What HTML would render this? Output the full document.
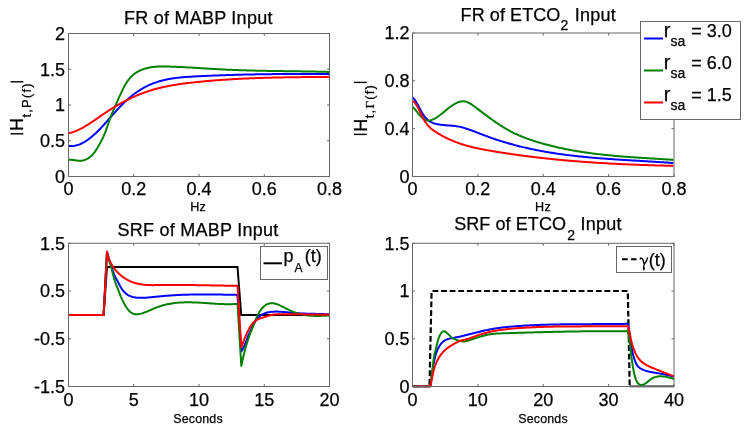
<!DOCTYPE html>
<html><head><meta charset="utf-8"><style>
html,body{margin:0;padding:0;background:#fff;width:749px;height:432px;overflow:hidden}
svg{display:block;will-change:transform;font-family:"Liberation Sans",sans-serif;fill:#000}
text{fill:#000;stroke:#000;stroke-width:0.25px}
</style></head><body>
<svg width="749" height="432" viewBox="0 0 749 432">
<rect width="749" height="432" fill="#fff"/>
<defs>
<clipPath id="c0"><rect x="67.5" y="32.5" width="263.0" height="145.0"/></clipPath>
<clipPath id="c1"><rect x="411.5" y="32.0" width="263.5" height="145.5"/></clipPath>
<clipPath id="c2"><rect x="67.5" y="242.3" width="263.0" height="145.2"/></clipPath>
<clipPath id="c3"><rect x="411.5" y="242.3" width="263.5" height="145.2"/></clipPath>
</defs>
<g clip-path="url(#c0)" fill="none" stroke-width="2" stroke-linejoin="round" stroke-linecap="butt">
<path d="M68.50,145.80L69.50,145.93L70.50,145.99L71.50,146.01L72.50,145.98L73.50,145.89L74.50,145.75L75.50,145.57L76.50,145.33L77.50,145.05L78.50,144.73L79.50,144.36L80.50,143.95L81.50,143.49L82.50,143.00L83.50,142.46L84.50,141.89L85.50,141.28L86.50,140.64L87.50,139.95L88.50,139.24L89.50,138.49L90.50,137.71L91.50,136.90L92.50,136.07L93.50,135.20L94.50,134.31L95.50,133.39L96.50,132.44L97.50,131.48L98.50,130.49L99.50,129.48L100.50,128.45L101.50,127.40L102.50,126.33L103.50,125.25L104.50,124.15L105.50,123.04L106.50,121.92L107.50,120.78L108.50,119.65L109.50,118.50L110.50,117.35L111.50,116.21L112.50,115.06L113.50,113.92L114.50,112.79L115.50,111.66L116.50,110.55L117.50,109.45L118.50,108.36L119.50,107.30L120.50,106.25L121.50,105.22L122.50,104.21L123.50,103.23L124.50,102.26L125.50,101.32L126.50,100.40L127.50,99.50L128.50,98.62L129.50,97.76L130.50,96.92L131.50,96.11L132.50,95.31L133.50,94.54L134.50,93.79L135.50,93.05L136.50,92.34L137.50,91.66L138.50,90.99L139.50,90.34L140.50,89.72L141.50,89.11L142.50,88.53L143.50,87.96L144.50,87.41L145.50,86.89L146.50,86.38L147.50,85.89L148.50,85.41L149.50,84.96L150.50,84.52L151.50,84.10L152.50,83.69L153.50,83.30L154.50,82.93L155.50,82.57L156.50,82.22L157.50,81.89L158.50,81.58L159.50,81.27L160.50,80.99L161.50,80.71L162.50,80.45L163.50,80.20L164.50,79.96L165.50,79.73L166.50,79.51L167.50,79.31L168.50,79.11L169.50,78.93L170.50,78.75L171.50,78.59L172.50,78.43L173.50,78.28L174.50,78.14L175.50,78.01L176.50,77.88L177.50,77.76L178.50,77.65L179.50,77.55L180.50,77.45L181.50,77.35L182.50,77.27L183.50,77.18L184.50,77.10L185.50,77.03L186.50,76.96L187.50,76.89L188.50,76.82L189.50,76.76L190.50,76.70L191.50,76.64L192.50,76.59L193.50,76.53L194.50,76.48L195.50,76.42L196.50,76.37L197.50,76.32L198.50,76.27L199.50,76.22L200.50,76.17L201.50,76.12L202.50,76.07L203.50,76.02L204.50,75.97L205.50,75.93L206.50,75.88L207.50,75.84L208.50,75.79L209.50,75.75L210.50,75.70L211.50,75.66L212.50,75.62L213.50,75.58L214.50,75.54L215.50,75.50L216.50,75.46L217.50,75.42L218.50,75.38L219.50,75.34L220.50,75.30L221.50,75.27L222.50,75.23L223.50,75.20L224.50,75.16L225.50,75.13L226.50,75.10L227.50,75.06L228.50,75.03L229.50,75.00L230.50,74.97L231.50,74.94L232.50,74.91L233.50,74.88L234.50,74.85L235.50,74.82L236.50,74.79L237.50,74.76L238.50,74.74L239.50,74.71L240.50,74.69L241.50,74.66L242.50,74.64L243.50,74.61L244.50,74.59L245.50,74.57L246.50,74.54L247.50,74.52L248.50,74.50L249.50,74.48L250.50,74.46L251.50,74.44L252.50,74.42L253.50,74.40L254.50,74.38L255.50,74.36L256.50,74.34L257.50,74.33L258.50,74.31L259.50,74.29L260.50,74.28L261.50,74.26L262.50,74.25L263.50,74.23L264.50,74.22L265.50,74.20L266.50,74.19L267.50,74.18L268.50,74.16L269.50,74.15L270.50,74.14L271.50,74.13L272.50,74.12L273.50,74.10L274.50,74.09L275.50,74.08L276.50,74.07L277.50,74.07L278.50,74.06L279.50,74.05L280.50,74.04L281.50,74.03L282.50,74.02L283.50,74.02L284.50,74.01L285.50,74.00L286.50,74.00L287.50,73.99L288.50,73.99L289.50,73.98L290.50,73.98L291.50,73.97L292.50,73.97L293.50,73.96L294.50,73.96L295.50,73.95L296.50,73.95L297.50,73.95L298.50,73.95L299.50,73.94L300.50,73.94L301.50,73.94L302.50,73.94L303.50,73.94L304.50,73.94L305.50,73.93L306.50,73.93L307.50,73.93L308.50,73.93L309.50,73.93L310.50,73.93L311.50,73.93L312.50,73.93L313.50,73.94L314.50,73.94L315.50,73.94L316.50,73.94L317.50,73.94L318.50,73.94L319.50,73.95L320.50,73.95L321.50,73.95L322.50,73.95L323.50,73.96L324.50,73.96L325.50,73.96L326.50,73.96L327.50,73.97L328.50,73.97L329.50,73.97" stroke="#0000ff"/>
<path d="M68.50,159.71L69.50,159.67L70.50,159.69L71.50,159.77L72.50,159.89L73.50,160.03L74.50,160.19L75.50,160.36L76.50,160.51L77.50,160.64L78.50,160.74L79.50,160.79L80.50,160.78L81.50,160.71L82.50,160.55L83.50,160.32L84.50,160.02L85.50,159.64L86.50,159.19L87.50,158.67L88.50,158.07L89.50,157.38L90.50,156.59L91.50,155.70L92.50,154.70L93.50,153.57L94.50,152.32L95.50,150.93L96.50,149.41L97.50,147.78L98.50,146.06L99.50,144.26L100.50,142.40L101.50,140.50L102.50,138.54L103.50,136.45L104.50,134.19L105.50,131.70L106.50,128.92L107.50,125.97L108.50,123.00L109.50,120.12L110.50,117.38L111.50,114.83L112.50,112.43L113.50,110.10L114.50,107.77L115.50,105.43L116.50,103.12L117.50,100.85L118.50,98.62L119.50,96.45L120.50,94.30L121.50,92.12L122.50,89.96L123.50,87.89L124.50,85.98L125.50,84.25L126.50,82.66L127.50,81.19L128.50,79.84L129.50,78.59L130.50,77.45L131.50,76.40L132.50,75.45L133.50,74.58L134.50,73.78L135.50,73.06L136.50,72.40L137.50,71.80L138.50,71.26L139.50,70.76L140.50,70.31L141.50,69.89L142.50,69.50L143.50,69.14L144.50,68.81L145.50,68.50L146.50,68.22L147.50,67.97L148.50,67.74L149.50,67.53L150.50,67.34L151.50,67.18L152.50,67.03L153.50,66.90L154.50,66.80L155.50,66.70L156.50,66.63L157.50,66.56L158.50,66.51L159.50,66.48L160.50,66.45L161.50,66.44L162.50,66.43L163.50,66.44L164.50,66.45L165.50,66.46L166.50,66.48L167.50,66.51L168.50,66.54L169.50,66.57L170.50,66.60L171.50,66.64L172.50,66.67L173.50,66.71L174.50,66.75L175.50,66.79L176.50,66.83L177.50,66.88L178.50,66.92L179.50,66.97L180.50,67.02L181.50,67.07L182.50,67.12L183.50,67.17L184.50,67.22L185.50,67.27L186.50,67.33L187.50,67.38L188.50,67.44L189.50,67.50L190.50,67.55L191.50,67.61L192.50,67.67L193.50,67.73L194.50,67.79L195.50,67.85L196.50,67.91L197.50,67.97L198.50,68.03L199.50,68.10L200.50,68.16L201.50,68.22L202.50,68.28L203.50,68.34L204.50,68.40L205.50,68.47L206.50,68.53L207.50,68.59L208.50,68.65L209.50,68.71L210.50,68.77L211.50,68.83L212.50,68.89L213.50,68.95L214.50,69.01L215.50,69.07L216.50,69.12L217.50,69.18L218.50,69.23L219.50,69.29L220.50,69.34L221.50,69.40L222.50,69.45L223.50,69.50L224.50,69.55L225.50,69.60L226.50,69.64L227.50,69.69L228.50,69.73L229.50,69.78L230.50,69.82L231.50,69.86L232.50,69.90L233.50,69.95L234.50,69.98L235.50,70.02L236.50,70.06L237.50,70.10L238.50,70.13L239.50,70.17L240.50,70.20L241.50,70.24L242.50,70.27L243.50,70.30L244.50,70.33L245.50,70.36L246.50,70.39L247.50,70.42L248.50,70.45L249.50,70.48L250.50,70.50L251.50,70.53L252.50,70.56L253.50,70.58L254.50,70.60L255.50,70.63L256.50,70.65L257.50,70.67L258.50,70.70L259.50,70.72L260.50,70.74L261.50,70.76L262.50,70.78L263.50,70.80L264.50,70.82L265.50,70.84L266.50,70.86L267.50,70.88L268.50,70.89L269.50,70.91L270.50,70.93L271.50,70.94L272.50,70.96L273.50,70.98L274.50,70.99L275.50,71.01L276.50,71.02L277.50,71.04L278.50,71.06L279.50,71.07L280.50,71.08L281.50,71.10L282.50,71.11L283.50,71.13L284.50,71.14L285.50,71.16L286.50,71.17L287.50,71.18L288.50,71.20L289.50,71.21L290.50,71.23L291.50,71.24L292.50,71.25L293.50,71.27L294.50,71.28L295.50,71.30L296.50,71.31L297.50,71.32L298.50,71.34L299.50,71.35L300.50,71.37L301.50,71.38L302.50,71.40L303.50,71.41L304.50,71.43L305.50,71.45L306.50,71.46L307.50,71.48L308.50,71.49L309.50,71.51L310.50,71.53L311.50,71.55L312.50,71.56L313.50,71.58L314.50,71.60L315.50,71.62L316.50,71.64L317.50,71.66L318.50,71.68L319.50,71.70L320.50,71.72L321.50,71.74L322.50,71.77L323.50,71.79L324.50,71.81L325.50,71.84L326.50,71.86L327.50,71.89L328.50,71.91L329.50,71.94" stroke="#008000"/>
<path d="M68.50,133.23L69.50,133.02L70.50,132.79L71.50,132.52L72.50,132.22L73.50,131.89L74.50,131.53L75.50,131.15L76.50,130.74L77.50,130.31L78.50,129.85L79.50,129.38L80.50,128.88L81.50,128.36L82.50,127.82L83.50,127.26L84.50,126.69L85.50,126.10L86.50,125.49L87.50,124.88L88.50,124.25L89.50,123.60L90.50,122.95L91.50,122.29L92.50,121.62L93.50,120.95L94.50,120.27L95.50,119.58L96.50,118.89L97.50,118.20L98.50,117.51L99.50,116.82L100.50,116.12L101.50,115.43L102.50,114.75L103.50,114.06L104.50,113.39L105.50,112.72L106.50,112.05L107.50,111.39L108.50,110.74L109.50,110.10L110.50,109.47L111.50,108.84L112.50,108.22L113.50,107.60L114.50,107.00L115.50,106.40L116.50,105.81L117.50,105.22L118.50,104.65L119.50,104.08L120.50,103.52L121.50,102.96L122.50,102.42L123.50,101.88L124.50,101.35L125.50,100.83L126.50,100.31L127.50,99.81L128.50,99.31L129.50,98.82L130.50,98.34L131.50,97.86L132.50,97.40L133.50,96.94L134.50,96.49L135.50,96.05L136.50,95.62L137.50,95.20L138.50,94.78L139.50,94.38L140.50,93.98L141.50,93.59L142.50,93.21L143.50,92.84L144.50,92.47L145.50,92.12L146.50,91.78L147.50,91.44L148.50,91.11L149.50,90.79L150.50,90.47L151.50,90.17L152.50,89.87L153.50,89.58L154.50,89.30L155.50,89.02L156.50,88.75L157.50,88.49L158.50,88.23L159.50,87.98L160.50,87.74L161.50,87.51L162.50,87.28L163.50,87.05L164.50,86.83L165.50,86.62L166.50,86.41L167.50,86.21L168.50,86.02L169.50,85.83L170.50,85.64L171.50,85.46L172.50,85.28L173.50,85.11L174.50,84.94L175.50,84.78L176.50,84.62L177.50,84.47L178.50,84.31L179.50,84.17L180.50,84.02L181.50,83.88L182.50,83.75L183.50,83.61L184.50,83.48L185.50,83.35L186.50,83.23L187.50,83.10L188.50,82.98L189.50,82.87L190.50,82.75L191.50,82.64L192.50,82.52L193.50,82.41L194.50,82.31L195.50,82.20L196.50,82.09L197.50,81.99L198.50,81.89L199.50,81.78L200.50,81.68L201.50,81.59L202.50,81.49L203.50,81.39L204.50,81.30L205.50,81.21L206.50,81.12L207.50,81.03L208.50,80.94L209.50,80.85L210.50,80.77L211.50,80.68L212.50,80.60L213.50,80.52L214.50,80.44L215.50,80.36L216.50,80.28L217.50,80.20L218.50,80.13L219.50,80.05L220.50,79.98L221.50,79.91L222.50,79.84L223.50,79.77L224.50,79.70L225.50,79.64L226.50,79.57L227.50,79.51L228.50,79.44L229.50,79.38L230.50,79.32L231.50,79.26L232.50,79.20L233.50,79.14L234.50,79.09L235.50,79.03L236.50,78.98L237.50,78.92L238.50,78.87L239.50,78.82L240.50,78.77L241.50,78.72L242.50,78.67L243.50,78.62L244.50,78.58L245.50,78.53L246.50,78.49L247.50,78.44L248.50,78.40L249.50,78.36L250.50,78.32L251.50,78.28L252.50,78.24L253.50,78.20L254.50,78.16L255.50,78.12L256.50,78.09L257.50,78.05L258.50,78.02L259.50,77.98L260.50,77.95L261.50,77.92L262.50,77.89L263.50,77.86L264.50,77.83L265.50,77.80L266.50,77.77L267.50,77.74L268.50,77.71L269.50,77.69L270.50,77.66L271.50,77.64L272.50,77.61L273.50,77.59L274.50,77.57L275.50,77.54L276.50,77.52L277.50,77.50L278.50,77.48L279.50,77.46L280.50,77.44L281.50,77.42L282.50,77.40L283.50,77.38L284.50,77.36L285.50,77.35L286.50,77.33L287.50,77.31L288.50,77.30L289.50,77.28L290.50,77.26L291.50,77.25L292.50,77.23L293.50,77.22L294.50,77.21L295.50,77.19L296.50,77.18L297.50,77.17L298.50,77.16L299.50,77.14L300.50,77.13L301.50,77.12L302.50,77.11L303.50,77.10L304.50,77.09L305.50,77.08L306.50,77.07L307.50,77.06L308.50,77.05L309.50,77.04L310.50,77.03L311.50,77.02L312.50,77.01L313.50,77.00L314.50,76.99L315.50,76.98L316.50,76.97L317.50,76.96L318.50,76.96L319.50,76.95L320.50,76.94L321.50,76.93L322.50,76.92L323.50,76.91L324.50,76.91L325.50,76.90L326.50,76.89L327.50,76.88L328.50,76.87L329.50,76.86" stroke="#ff0000"/>
</g>
<rect x="68.5" y="33.5" width="261.0" height="143.0" fill="none" stroke="#686868" stroke-width="1"/>
<line x1="68.5" y1="176.5" x2="68.5" y2="174.0" stroke="#686868" stroke-width="1"/>
<line x1="68.5" y1="33.5" x2="68.5" y2="36.0" stroke="#686868" stroke-width="1"/>
<line x1="133.75" y1="176.5" x2="133.75" y2="174.0" stroke="#686868" stroke-width="1"/>
<line x1="133.75" y1="33.5" x2="133.75" y2="36.0" stroke="#686868" stroke-width="1"/>
<line x1="199.0" y1="176.5" x2="199.0" y2="174.0" stroke="#686868" stroke-width="1"/>
<line x1="199.0" y1="33.5" x2="199.0" y2="36.0" stroke="#686868" stroke-width="1"/>
<line x1="264.25" y1="176.5" x2="264.25" y2="174.0" stroke="#686868" stroke-width="1"/>
<line x1="264.25" y1="33.5" x2="264.25" y2="36.0" stroke="#686868" stroke-width="1"/>
<line x1="329.5" y1="176.5" x2="329.5" y2="174.0" stroke="#686868" stroke-width="1"/>
<line x1="329.5" y1="33.5" x2="329.5" y2="36.0" stroke="#686868" stroke-width="1"/>
<line x1="68.5" y1="176.5" x2="71.0" y2="176.5" stroke="#686868" stroke-width="1"/>
<line x1="329.5" y1="176.5" x2="327.0" y2="176.5" stroke="#686868" stroke-width="1"/>
<line x1="68.5" y1="140.75" x2="71.0" y2="140.75" stroke="#686868" stroke-width="1"/>
<line x1="329.5" y1="140.75" x2="327.0" y2="140.75" stroke="#686868" stroke-width="1"/>
<line x1="68.5" y1="105.0" x2="71.0" y2="105.0" stroke="#686868" stroke-width="1"/>
<line x1="329.5" y1="105.0" x2="327.0" y2="105.0" stroke="#686868" stroke-width="1"/>
<line x1="68.5" y1="69.25" x2="71.0" y2="69.25" stroke="#686868" stroke-width="1"/>
<line x1="329.5" y1="69.25" x2="327.0" y2="69.25" stroke="#686868" stroke-width="1"/>
<line x1="68.5" y1="33.5" x2="71.0" y2="33.5" stroke="#686868" stroke-width="1"/>
<line x1="329.5" y1="33.5" x2="327.0" y2="33.5" stroke="#686868" stroke-width="1"/>
<g clip-path="url(#c1)" fill="none" stroke-width="2" stroke-linejoin="round" stroke-linecap="butt">
<path d="M412.60,97.48L413.60,98.44L414.61,99.68L415.61,101.13L416.61,102.77L417.62,104.54L418.62,106.39L419.62,108.27L420.63,110.14L421.63,111.95L422.63,113.65L423.64,115.19L424.64,116.56L425.65,117.78L426.65,118.85L427.65,119.79L428.66,120.60L429.66,121.31L430.66,121.91L431.67,122.42L432.67,122.86L433.67,123.22L434.68,123.54L435.68,123.81L436.68,124.04L437.69,124.25L438.69,124.44L439.69,124.60L440.70,124.74L441.70,124.87L442.70,124.98L443.71,125.08L444.71,125.16L445.71,125.24L446.72,125.31L447.72,125.38L448.72,125.45L449.73,125.52L450.73,125.60L451.74,125.68L452.74,125.77L453.74,125.87L454.75,125.99L455.75,126.12L456.75,126.27L457.76,126.44L458.76,126.63L459.76,126.84L460.77,127.07L461.77,127.32L462.77,127.58L463.78,127.86L464.78,128.15L465.78,128.45L466.79,128.77L467.79,129.10L468.79,129.44L469.80,129.79L470.80,130.15L471.80,130.52L472.81,130.90L473.81,131.27L474.81,131.66L475.82,132.05L476.82,132.44L477.83,132.83L478.83,133.23L479.83,133.62L480.84,134.01L481.84,134.40L482.84,134.79L483.85,135.17L484.85,135.55L485.85,135.93L486.86,136.30L487.86,136.67L488.86,137.03L489.87,137.39L490.87,137.75L491.87,138.10L492.88,138.44L493.88,138.79L494.88,139.13L495.89,139.46L496.89,139.79L497.89,140.12L498.90,140.44L499.90,140.76L500.90,141.08L501.91,141.39L502.91,141.70L503.92,142.01L504.92,142.31L505.92,142.60L506.93,142.90L507.93,143.19L508.93,143.48L509.94,143.76L510.94,144.04L511.94,144.32L512.95,144.59L513.95,144.86L514.95,145.13L515.96,145.39L516.96,145.65L517.96,145.91L518.97,146.16L519.97,146.41L520.97,146.65L521.98,146.90L522.98,147.14L523.98,147.38L524.99,147.61L525.99,147.84L526.99,148.07L528.00,148.29L529.00,148.52L530.00,148.73L531.01,148.95L532.01,149.16L533.02,149.37L534.02,149.58L535.02,149.79L536.03,149.99L537.03,150.19L538.03,150.38L539.04,150.58L540.04,150.77L541.04,150.95L542.05,151.14L543.05,151.32L544.05,151.50L545.06,151.68L546.06,151.86L547.06,152.03L548.07,152.20L549.07,152.37L550.07,152.53L551.08,152.69L552.08,152.85L553.08,153.01L554.09,153.17L555.09,153.32L556.10,153.47L557.10,153.62L558.10,153.77L559.11,153.91L560.11,154.06L561.11,154.20L562.12,154.34L563.12,154.47L564.12,154.61L565.13,154.74L566.13,154.87L567.13,155.00L568.14,155.12L569.14,155.25L570.14,155.37L571.15,155.49L572.15,155.61L573.15,155.73L574.16,155.84L575.16,155.96L576.16,156.07L577.17,156.18L578.17,156.29L579.17,156.39L580.18,156.50L581.18,156.60L582.18,156.70L583.19,156.80L584.19,156.90L585.20,157.00L586.20,157.10L587.20,157.19L588.21,157.29L589.21,157.38L590.21,157.47L591.22,157.56L592.22,157.65L593.22,157.73L594.23,157.82L595.23,157.90L596.23,157.99L597.24,158.07L598.24,158.15L599.24,158.23L600.25,158.31L601.25,158.39L602.25,158.46L603.26,158.54L604.26,158.61L605.26,158.69L606.27,158.76L607.27,158.83L608.27,158.90L609.28,158.97L610.28,159.04L611.29,159.11L612.29,159.18L613.29,159.25L614.30,159.32L615.30,159.38L616.30,159.45L617.31,159.51L618.31,159.58L619.31,159.64L620.32,159.70L621.32,159.77L622.32,159.83L623.33,159.89L624.33,159.95L625.33,160.01L626.34,160.08L627.34,160.14L628.34,160.20L629.35,160.26L630.35,160.32L631.35,160.38L632.36,160.43L633.36,160.49L634.37,160.55L635.37,160.61L636.37,160.67L637.38,160.73L638.38,160.79L639.38,160.85L640.39,160.91L641.39,160.97L642.39,161.02L643.40,161.08L644.40,161.14L645.40,161.20L646.41,161.26L647.41,161.32L648.41,161.38L649.42,161.44L650.42,161.50L651.42,161.56L652.43,161.63L653.43,161.69L654.43,161.75L655.44,161.81L656.44,161.88L657.44,161.94L658.45,162.00L659.45,162.07L660.46,162.13L661.46,162.20L662.46,162.27L663.47,162.33L664.47,162.40L665.47,162.47L666.48,162.54L667.48,162.61L668.48,162.68L669.49,162.75L670.49,162.82L671.49,162.90L672.50,162.97L673.50,163.05" stroke="#0000ff"/>
<path d="M412.60,106.84L413.60,107.82L414.61,108.92L415.61,110.10L416.61,111.34L417.62,112.60L418.62,113.85L419.62,115.07L420.63,116.21L421.63,117.26L422.63,118.18L423.64,118.95L424.64,119.55L425.65,119.99L426.65,120.28L427.65,120.45L428.66,120.48L429.66,120.40L430.66,120.21L431.67,119.93L432.67,119.55L433.67,119.10L434.68,118.58L435.68,118.01L436.68,117.38L437.69,116.71L438.69,116.01L439.69,115.27L440.70,114.50L441.70,113.72L442.70,112.92L443.71,112.10L444.71,111.28L445.71,110.46L446.72,109.65L447.72,108.84L448.72,108.05L449.73,107.28L450.73,106.53L451.74,105.81L452.74,105.13L453.74,104.49L454.75,103.89L455.75,103.35L456.75,102.86L457.76,102.43L458.76,102.06L459.76,101.77L460.77,101.54L461.77,101.39L462.77,101.32L463.78,101.34L464.78,101.44L465.78,101.62L466.79,101.91L467.79,102.28L468.79,102.76L469.80,103.31L470.80,103.92L471.80,104.60L472.81,105.31L473.81,106.05L474.81,106.81L475.82,107.57L476.82,108.33L477.83,109.10L478.83,109.86L479.83,110.62L480.84,111.38L481.84,112.14L482.84,112.89L483.85,113.65L484.85,114.40L485.85,115.15L486.86,115.89L487.86,116.63L488.86,117.37L489.87,118.10L490.87,118.82L491.87,119.54L492.88,120.25L493.88,120.96L494.88,121.66L495.89,122.35L496.89,123.03L497.89,123.71L498.90,124.37L499.90,125.03L500.90,125.68L501.91,126.31L502.91,126.94L503.92,127.56L504.92,128.16L505.92,128.75L506.93,129.33L507.93,129.90L508.93,130.45L509.94,131.00L510.94,131.52L511.94,132.04L512.95,132.55L513.95,133.04L514.95,133.53L515.96,134.00L516.96,134.46L517.96,134.92L518.97,135.36L519.97,135.79L520.97,136.21L521.98,136.63L522.98,137.03L523.98,137.43L524.99,137.82L525.99,138.19L526.99,138.57L528.00,138.93L529.00,139.29L530.00,139.64L531.01,139.98L532.01,140.32L533.02,140.65L534.02,140.97L535.02,141.29L536.03,141.60L537.03,141.91L538.03,142.22L539.04,142.52L540.04,142.81L541.04,143.10L542.05,143.39L543.05,143.67L544.05,143.95L545.06,144.22L546.06,144.49L547.06,144.76L548.07,145.02L549.07,145.28L550.07,145.54L551.08,145.79L552.08,146.04L553.08,146.29L554.09,146.53L555.09,146.76L556.10,147.00L557.10,147.23L558.10,147.46L559.11,147.68L560.11,147.90L561.11,148.12L562.12,148.33L563.12,148.54L564.12,148.75L565.13,148.95L566.13,149.15L567.13,149.35L568.14,149.55L569.14,149.74L570.14,149.93L571.15,150.11L572.15,150.30L573.15,150.48L574.16,150.65L575.16,150.83L576.16,151.00L577.17,151.17L578.17,151.33L579.17,151.50L580.18,151.66L581.18,151.82L582.18,151.97L583.19,152.12L584.19,152.27L585.20,152.42L586.20,152.57L587.20,152.71L588.21,152.85L589.21,152.99L590.21,153.13L591.22,153.26L592.22,153.39L593.22,153.52L594.23,153.65L595.23,153.77L596.23,153.89L597.24,154.02L598.24,154.13L599.24,154.25L600.25,154.37L601.25,154.48L602.25,154.59L603.26,154.70L604.26,154.81L605.26,154.91L606.27,155.02L607.27,155.12L608.27,155.22L609.28,155.32L610.28,155.42L611.29,155.51L612.29,155.61L613.29,155.70L614.30,155.79L615.30,155.88L616.30,155.97L617.31,156.06L618.31,156.14L619.31,156.23L620.32,156.31L621.32,156.39L622.32,156.47L623.33,156.55L624.33,156.63L625.33,156.71L626.34,156.79L627.34,156.86L628.34,156.94L629.35,157.01L630.35,157.08L631.35,157.15L632.36,157.23L633.36,157.30L634.37,157.37L635.37,157.43L636.37,157.50L637.38,157.57L638.38,157.64L639.38,157.70L640.39,157.77L641.39,157.84L642.39,157.90L643.40,157.97L644.40,158.03L645.40,158.09L646.41,158.16L647.41,158.22L648.41,158.28L649.42,158.35L650.42,158.41L651.42,158.47L652.43,158.53L653.43,158.60L654.43,158.66L655.44,158.72L656.44,158.78L657.44,158.85L658.45,158.91L659.45,158.97L660.46,159.03L661.46,159.10L662.46,159.16L663.47,159.22L664.47,159.29L665.47,159.35L666.48,159.42L667.48,159.48L668.48,159.55L669.49,159.61L670.49,159.68L671.49,159.75L672.50,159.82L673.50,159.88" stroke="#008000"/>
<path d="M412.60,101.18L413.60,101.60L414.61,102.45L415.61,103.68L416.61,105.22L417.62,107.01L418.62,108.98L419.62,111.05L420.63,113.17L421.63,115.28L422.63,117.29L423.64,119.16L424.64,120.86L425.65,122.40L426.65,123.79L427.65,125.06L428.66,126.21L429.66,127.25L430.66,128.19L431.67,129.06L432.67,129.85L433.67,130.59L434.68,131.28L435.68,131.94L436.68,132.58L437.69,133.20L438.69,133.81L439.69,134.41L440.70,134.99L441.70,135.55L442.70,136.10L443.71,136.64L444.71,137.16L445.71,137.67L446.72,138.16L447.72,138.64L448.72,139.11L449.73,139.57L450.73,140.01L451.74,140.45L452.74,140.87L453.74,141.28L454.75,141.68L455.75,142.06L456.75,142.44L457.76,142.81L458.76,143.16L459.76,143.51L460.77,143.85L461.77,144.18L462.77,144.49L463.78,144.80L464.78,145.11L465.78,145.40L466.79,145.68L467.79,145.96L468.79,146.23L469.80,146.50L470.80,146.75L471.80,147.00L472.81,147.24L473.81,147.48L474.81,147.71L475.82,147.94L476.82,148.16L477.83,148.37L478.83,148.58L479.83,148.79L480.84,148.99L481.84,149.18L482.84,149.38L483.85,149.57L484.85,149.75L485.85,149.94L486.86,150.12L487.86,150.30L488.86,150.47L489.87,150.65L490.87,150.82L491.87,150.99L492.88,151.16L493.88,151.33L494.88,151.50L495.89,151.66L496.89,151.83L497.89,151.99L498.90,152.15L499.90,152.31L500.90,152.47L501.91,152.63L502.91,152.79L503.92,152.94L504.92,153.10L505.92,153.25L506.93,153.40L507.93,153.56L508.93,153.71L509.94,153.85L510.94,154.00L511.94,154.15L512.95,154.29L513.95,154.44L514.95,154.58L515.96,154.72L516.96,154.86L517.96,155.00L518.97,155.14L519.97,155.27L520.97,155.41L521.98,155.54L522.98,155.68L523.98,155.81L524.99,155.94L525.99,156.07L526.99,156.20L528.00,156.33L529.00,156.45L530.00,156.58L531.01,156.70L532.01,156.83L533.02,156.95L534.02,157.07L535.02,157.19L536.03,157.31L537.03,157.43L538.03,157.54L539.04,157.66L540.04,157.77L541.04,157.89L542.05,158.00L543.05,158.11L544.05,158.22L545.06,158.33L546.06,158.44L547.06,158.55L548.07,158.65L549.07,158.76L550.07,158.86L551.08,158.97L552.08,159.07L553.08,159.17L554.09,159.27L555.09,159.37L556.10,159.47L557.10,159.57L558.10,159.67L559.11,159.76L560.11,159.86L561.11,159.95L562.12,160.04L563.12,160.13L564.12,160.23L565.13,160.32L566.13,160.41L567.13,160.49L568.14,160.58L569.14,160.67L570.14,160.75L571.15,160.84L572.15,160.92L573.15,161.01L574.16,161.09L575.16,161.17L576.16,161.25L577.17,161.33L578.17,161.41L579.17,161.49L580.18,161.56L581.18,161.64L582.18,161.72L583.19,161.79L584.19,161.86L585.20,161.94L586.20,162.01L587.20,162.08L588.21,162.15L589.21,162.22L590.21,162.29L591.22,162.36L592.22,162.43L593.22,162.49L594.23,162.56L595.23,162.63L596.23,162.69L597.24,162.75L598.24,162.82L599.24,162.88L600.25,162.94L601.25,163.00L602.25,163.06L603.26,163.12L604.26,163.18L605.26,163.24L606.27,163.30L607.27,163.35L608.27,163.41L609.28,163.46L610.28,163.52L611.29,163.57L612.29,163.63L613.29,163.68L614.30,163.73L615.30,163.78L616.30,163.83L617.31,163.88L618.31,163.93L619.31,163.98L620.32,164.03L621.32,164.08L622.32,164.13L623.33,164.17L624.33,164.22L625.33,164.26L626.34,164.31L627.34,164.35L628.34,164.40L629.35,164.44L630.35,164.48L631.35,164.52L632.36,164.57L633.36,164.61L634.37,164.65L635.37,164.69L636.37,164.73L637.38,164.77L638.38,164.80L639.38,164.84L640.39,164.88L641.39,164.91L642.39,164.95L643.40,164.99L644.40,165.02L645.40,165.06L646.41,165.09L647.41,165.12L648.41,165.16L649.42,165.19L650.42,165.22L651.42,165.26L652.43,165.29L653.43,165.32L654.43,165.35L655.44,165.38L656.44,165.41L657.44,165.44L658.45,165.47L659.45,165.50L660.46,165.52L661.46,165.55L662.46,165.58L663.47,165.61L664.47,165.63L665.47,165.66L666.48,165.69L667.48,165.71L668.48,165.74L669.49,165.76L670.49,165.79L671.49,165.81L672.50,165.83L673.50,165.86" stroke="#ff0000"/>
</g>
<rect x="412.5" y="33.0" width="261.5" height="143.5" fill="none" stroke="#686868" stroke-width="1"/>
<line x1="412.5" y1="176.5" x2="412.5" y2="174.0" stroke="#686868" stroke-width="1"/>
<line x1="412.5" y1="33.0" x2="412.5" y2="35.5" stroke="#686868" stroke-width="1"/>
<line x1="477.875" y1="176.5" x2="477.875" y2="174.0" stroke="#686868" stroke-width="1"/>
<line x1="477.875" y1="33.0" x2="477.875" y2="35.5" stroke="#686868" stroke-width="1"/>
<line x1="543.25" y1="176.5" x2="543.25" y2="174.0" stroke="#686868" stroke-width="1"/>
<line x1="543.25" y1="33.0" x2="543.25" y2="35.5" stroke="#686868" stroke-width="1"/>
<line x1="608.625" y1="176.5" x2="608.625" y2="174.0" stroke="#686868" stroke-width="1"/>
<line x1="608.625" y1="33.0" x2="608.625" y2="35.5" stroke="#686868" stroke-width="1"/>
<line x1="674.0" y1="176.5" x2="674.0" y2="174.0" stroke="#686868" stroke-width="1"/>
<line x1="674.0" y1="33.0" x2="674.0" y2="35.5" stroke="#686868" stroke-width="1"/>
<line x1="412.5" y1="176.5" x2="415.0" y2="176.5" stroke="#686868" stroke-width="1"/>
<line x1="674.0" y1="176.5" x2="671.5" y2="176.5" stroke="#686868" stroke-width="1"/>
<line x1="412.5" y1="128.66666666666666" x2="415.0" y2="128.66666666666666" stroke="#686868" stroke-width="1"/>
<line x1="674.0" y1="128.66666666666666" x2="671.5" y2="128.66666666666666" stroke="#686868" stroke-width="1"/>
<line x1="412.5" y1="80.83333333333333" x2="415.0" y2="80.83333333333333" stroke="#686868" stroke-width="1"/>
<line x1="674.0" y1="80.83333333333333" x2="671.5" y2="80.83333333333333" stroke="#686868" stroke-width="1"/>
<line x1="412.5" y1="33.0" x2="415.0" y2="33.0" stroke="#686868" stroke-width="1"/>
<line x1="674.0" y1="33.0" x2="671.5" y2="33.0" stroke="#686868" stroke-width="1"/>
<path d="M68.5,315H103.6L107.0,267.0H237.5L241.2,315H329.5" fill="none" stroke="#000" stroke-width="2" clip-path="url(#c2)"/>
<g clip-path="url(#c2)" fill="none" stroke-width="2" stroke-linejoin="round" stroke-linecap="butt">
<path d="M68.50,315.00L103.60,315.00L107.00,251.80L108.00,255.91L109.01,259.11L110.01,261.89L111.02,264.69L112.02,267.84L113.02,271.10L114.03,274.11L115.03,276.53L116.03,278.42L117.04,280.18L118.04,282.12L119.05,284.13L120.05,286.03L121.05,287.72L122.06,289.24L123.06,290.57L124.07,291.74L125.07,292.76L126.07,293.65L127.08,294.40L128.08,295.05L129.08,295.59L130.09,296.05L131.09,296.43L132.10,296.74L133.10,297.01L134.10,297.23L135.11,297.42L136.11,297.57L137.12,297.68L138.12,297.77L139.12,297.82L140.13,297.85L141.13,297.86L142.13,297.84L143.14,297.81L144.14,297.76L145.15,297.70L146.15,297.63L147.15,297.55L148.16,297.47L149.16,297.38L150.17,297.29L151.17,297.20L152.17,297.11L153.18,297.01L154.18,296.91L155.18,296.82L156.19,296.72L157.19,296.62L158.20,296.52L159.20,296.42L160.20,296.33L161.21,296.23L162.21,296.14L163.22,296.05L164.22,295.96L165.22,295.87L166.23,295.79L167.23,295.71L168.23,295.63L169.24,295.56L170.24,295.48L171.25,295.42L172.25,295.35L173.25,295.29L174.26,295.22L175.26,295.17L176.27,295.11L177.27,295.06L178.27,295.01L179.28,294.96L180.28,294.91L181.28,294.87L182.29,294.83L183.29,294.79L184.30,294.75L185.30,294.72L186.30,294.69L187.31,294.66L188.31,294.63L189.32,294.60L190.32,294.58L191.32,294.56L192.33,294.54L193.33,294.52L194.33,294.50L195.34,294.49L196.34,294.47L197.35,294.46L198.35,294.45L199.35,294.45L200.36,294.44L201.36,294.43L202.37,294.43L203.37,294.43L204.37,294.43L205.38,294.43L206.38,294.43L207.38,294.43L208.39,294.44L209.39,294.45L210.40,294.45L211.40,294.46L212.40,294.47L213.41,294.48L214.41,294.49L215.42,294.50L216.42,294.52L217.42,294.53L218.43,294.54L219.43,294.56L220.43,294.57L221.44,294.59L222.44,294.61L223.45,294.63L224.45,294.64L225.45,294.66L226.46,294.68L227.46,294.70L228.47,294.72L229.47,294.74L230.47,294.76L231.48,294.79L232.48,294.81L233.48,294.83L234.49,294.85L235.49,294.87L236.50,294.89L237.50,294.91L241.30,351.50L242.30,349.96L243.30,348.04L244.31,345.84L245.31,343.43L246.31,340.89L247.31,338.30L248.32,335.73L249.32,333.26L250.32,330.93L251.32,328.75L252.33,326.71L253.33,324.82L254.33,323.08L255.33,321.49L256.33,320.05L257.34,318.77L258.34,317.64L259.34,316.66L260.34,315.80L261.35,315.06L262.35,314.43L263.35,313.89L264.35,313.45L265.35,313.07L266.36,312.77L267.36,312.52L268.36,312.31L269.36,312.13L270.37,311.98L271.37,311.86L272.37,311.77L273.37,311.70L274.38,311.65L275.38,311.62L276.38,311.61L277.38,311.62L278.38,311.65L279.39,311.69L280.39,311.74L281.39,311.80L282.39,311.88L283.40,311.96L284.40,312.05L285.40,312.14L286.40,312.24L287.40,312.35L288.41,312.45L289.41,312.55L290.41,312.65L291.41,312.75L292.42,312.84L293.42,312.93L294.42,313.01L295.42,313.08L296.43,313.15L297.43,313.22L298.43,313.28L299.43,313.33L300.43,313.38L301.44,313.43L302.44,313.48L303.44,313.52L304.44,313.56L305.45,313.59L306.45,313.63L307.45,313.66L308.45,313.69L309.45,313.72L310.46,313.75L311.46,313.77L312.46,313.80L313.46,313.82L314.47,313.84L315.47,313.87L316.47,313.89L317.47,313.92L318.48,313.94L319.48,313.97L320.48,314.00L321.48,314.03L322.48,314.06L323.49,314.09L324.49,314.13L325.49,314.17L326.49,314.21L327.50,314.26L328.50,314.31L329.50,314.36" stroke="#0000ff"/>
<path d="M68.50,315.00L103.60,315.00L107.00,251.80L108.00,256.23L109.01,259.85L110.01,263.15L111.02,266.57L112.02,270.45L113.02,274.51L114.03,278.35L115.03,281.61L116.03,284.30L117.04,286.81L118.04,289.44L119.05,292.12L120.05,294.69L121.05,297.09L122.06,299.33L123.06,301.42L124.07,303.36L125.07,305.15L126.07,306.78L127.08,308.26L128.08,309.57L129.08,310.72L130.09,311.70L131.09,312.51L132.10,313.16L133.10,313.64L134.10,313.97L135.11,314.18L136.11,314.28L137.12,314.28L138.12,314.20L139.12,314.05L140.13,313.85L141.13,313.61L142.13,313.33L143.14,313.02L144.14,312.67L145.15,312.30L146.15,311.91L147.15,311.50L148.16,311.07L149.16,310.63L150.17,310.19L151.17,309.74L152.17,309.30L153.18,308.86L154.18,308.43L155.18,308.01L156.19,307.61L157.19,307.22L158.20,306.86L159.20,306.51L160.20,306.18L161.21,305.86L162.21,305.56L163.22,305.28L164.22,305.01L165.22,304.76L166.23,304.52L167.23,304.30L168.23,304.09L169.24,303.90L170.24,303.72L171.25,303.55L172.25,303.39L173.25,303.25L174.26,303.11L175.26,302.99L176.27,302.88L177.27,302.79L178.27,302.70L179.28,302.62L180.28,302.55L181.28,302.49L182.29,302.44L183.29,302.40L184.30,302.37L185.30,302.35L186.30,302.33L187.31,302.32L188.31,302.32L189.32,302.33L190.32,302.34L191.32,302.36L192.33,302.38L193.33,302.41L194.33,302.44L195.34,302.48L196.34,302.52L197.35,302.57L198.35,302.62L199.35,302.68L200.36,302.73L201.36,302.79L202.37,302.86L203.37,302.92L204.37,302.99L205.38,303.05L206.38,303.12L207.38,303.19L208.39,303.26L209.39,303.33L210.40,303.40L211.40,303.47L212.40,303.54L213.41,303.60L214.41,303.67L215.42,303.73L216.42,303.79L217.42,303.84L218.43,303.90L219.43,303.95L220.43,304.00L221.44,304.04L222.44,304.08L223.45,304.11L224.45,304.14L225.45,304.16L226.46,304.18L227.46,304.19L228.47,304.19L229.47,304.19L230.47,304.18L231.48,304.16L232.48,304.14L233.48,304.10L234.49,304.06L235.49,304.01L236.50,303.95L237.50,303.88L241.30,366.00L242.30,361.26L243.30,356.80L244.31,352.63L245.31,348.75L246.31,345.14L247.31,341.80L248.32,338.72L249.32,335.88L250.32,333.24L251.32,330.73L252.33,328.25L253.33,325.72L254.33,323.09L255.33,320.49L256.33,318.07L257.34,315.89L258.34,313.92L259.34,312.16L260.34,310.59L261.35,309.21L262.35,308.01L263.35,306.96L264.35,306.06L265.35,305.31L266.36,304.68L267.36,304.18L268.36,303.79L269.36,303.52L270.37,303.34L271.37,303.27L272.37,303.27L273.37,303.36L274.38,303.52L275.38,303.75L276.38,304.04L277.38,304.37L278.38,304.76L279.39,305.18L280.39,305.63L281.39,306.11L282.39,306.60L283.40,307.11L284.40,307.63L285.40,308.14L286.40,308.65L287.40,309.15L288.41,309.64L289.41,310.12L290.41,310.59L291.41,311.04L292.42,311.47L293.42,311.88L294.42,312.27L295.42,312.64L296.43,312.99L297.43,313.31L298.43,313.61L299.43,313.89L300.43,314.14L301.44,314.38L302.44,314.59L303.44,314.79L304.44,314.97L305.45,315.13L306.45,315.27L307.45,315.40L308.45,315.51L309.45,315.60L310.46,315.68L311.46,315.75L312.46,315.81L313.46,315.85L314.47,315.89L315.47,315.91L316.47,315.92L317.47,315.92L318.48,315.92L319.48,315.90L320.48,315.88L321.48,315.86L322.48,315.83L323.49,315.79L324.49,315.75L325.49,315.71L326.49,315.66L327.50,315.61L328.50,315.56L329.50,315.51" stroke="#008000"/>
<path d="M68.50,315.00L103.60,315.00L107.00,251.80L108.00,256.03L109.01,259.20L110.01,261.58L111.02,263.45L112.02,265.04L113.02,266.54L114.03,267.96L115.03,269.29L116.03,270.54L117.04,271.70L118.04,272.77L119.05,273.77L120.05,274.70L121.05,275.56L122.06,276.36L123.06,277.11L124.07,277.80L125.07,278.45L126.07,279.06L127.08,279.63L128.08,280.17L129.08,280.67L130.09,281.14L131.09,281.57L132.10,281.97L133.10,282.34L134.10,282.68L135.11,283.00L136.11,283.28L137.12,283.54L138.12,283.78L139.12,283.99L140.13,284.18L141.13,284.35L142.13,284.50L143.14,284.63L144.14,284.74L145.15,284.83L146.15,284.91L147.15,284.98L148.16,285.03L149.16,285.07L150.17,285.10L151.17,285.12L152.17,285.13L153.18,285.13L154.18,285.13L155.18,285.12L156.19,285.10L157.19,285.09L158.20,285.07L159.20,285.05L160.20,285.04L161.21,285.02L162.21,285.00L163.22,284.99L164.22,284.98L165.22,284.97L166.23,284.96L167.23,284.95L168.23,284.94L169.24,284.94L170.24,284.93L171.25,284.93L172.25,284.93L173.25,284.93L174.26,284.93L175.26,284.93L176.27,284.93L177.27,284.93L178.27,284.94L179.28,284.94L180.28,284.95L181.28,284.95L182.29,284.96L183.29,284.97L184.30,284.98L185.30,284.99L186.30,285.00L187.31,285.01L188.31,285.02L189.32,285.03L190.32,285.05L191.32,285.06L192.33,285.07L193.33,285.09L194.33,285.10L195.34,285.12L196.34,285.13L197.35,285.15L198.35,285.17L199.35,285.18L200.36,285.20L201.36,285.22L202.37,285.24L203.37,285.25L204.37,285.27L205.38,285.29L206.38,285.31L207.38,285.33L208.39,285.35L209.39,285.36L210.40,285.38L211.40,285.40L212.40,285.42L213.41,285.44L214.41,285.46L215.42,285.47L216.42,285.49L217.42,285.51L218.43,285.53L219.43,285.55L220.43,285.56L221.44,285.58L222.44,285.60L223.45,285.61L224.45,285.63L225.45,285.64L226.46,285.66L227.46,285.67L228.47,285.68L229.47,285.70L230.47,285.71L231.48,285.72L232.48,285.73L233.48,285.74L234.49,285.75L235.49,285.76L236.50,285.77L237.50,285.78L241.30,347.30L242.30,344.73L243.30,342.09L244.31,339.49L245.31,336.96L246.31,334.53L247.31,332.25L248.32,330.14L249.32,328.23L250.32,326.55L251.32,325.08L252.33,323.80L253.33,322.69L254.33,321.74L255.33,320.93L256.33,320.23L257.34,319.64L258.34,319.13L259.34,318.70L260.34,318.32L261.35,317.99L262.35,317.69L263.35,317.40L264.35,317.11L265.35,316.81L266.36,316.49L267.36,316.15L268.36,315.81L269.36,315.48L270.37,315.18L271.37,314.91L272.37,314.69L273.37,314.53L274.38,314.40L275.38,314.32L276.38,314.27L277.38,314.23L278.38,314.21L279.39,314.20L280.39,314.19L281.39,314.18L282.39,314.17L283.40,314.17L284.40,314.17L285.40,314.17L286.40,314.17L287.40,314.17L288.41,314.18L289.41,314.18L290.41,314.19L291.41,314.20L292.42,314.21L293.42,314.23L294.42,314.24L295.42,314.25L296.43,314.27L297.43,314.28L298.43,314.30L299.43,314.32L300.43,314.34L301.44,314.36L302.44,314.37L303.44,314.39L304.44,314.41L305.45,314.43L306.45,314.45L307.45,314.47L308.45,314.49L309.45,314.50L310.46,314.52L311.46,314.54L312.46,314.55L313.46,314.57L314.47,314.58L315.47,314.59L316.47,314.60L317.47,314.61L318.48,314.62L319.48,314.63L320.48,314.64L321.48,314.64L322.48,314.64L323.49,314.64L324.49,314.64L325.49,314.64L326.49,314.63L327.50,314.62L328.50,314.61L329.50,314.60" stroke="#ff0000"/>
</g>
<rect x="68.5" y="243.3" width="261.0" height="143.2" fill="none" stroke="#686868" stroke-width="1"/>
<line x1="68.5" y1="386.5" x2="68.5" y2="384.0" stroke="#686868" stroke-width="1"/>
<line x1="68.5" y1="243.3" x2="68.5" y2="245.8" stroke="#686868" stroke-width="1"/>
<line x1="133.75" y1="386.5" x2="133.75" y2="384.0" stroke="#686868" stroke-width="1"/>
<line x1="133.75" y1="243.3" x2="133.75" y2="245.8" stroke="#686868" stroke-width="1"/>
<line x1="199.0" y1="386.5" x2="199.0" y2="384.0" stroke="#686868" stroke-width="1"/>
<line x1="199.0" y1="243.3" x2="199.0" y2="245.8" stroke="#686868" stroke-width="1"/>
<line x1="264.25" y1="386.5" x2="264.25" y2="384.0" stroke="#686868" stroke-width="1"/>
<line x1="264.25" y1="243.3" x2="264.25" y2="245.8" stroke="#686868" stroke-width="1"/>
<line x1="329.5" y1="386.5" x2="329.5" y2="384.0" stroke="#686868" stroke-width="1"/>
<line x1="329.5" y1="243.3" x2="329.5" y2="245.8" stroke="#686868" stroke-width="1"/>
<line x1="68.5" y1="386.5" x2="71.0" y2="386.5" stroke="#686868" stroke-width="1"/>
<line x1="329.5" y1="386.5" x2="327.0" y2="386.5" stroke="#686868" stroke-width="1"/>
<line x1="68.5" y1="338.76666666666665" x2="71.0" y2="338.76666666666665" stroke="#686868" stroke-width="1"/>
<line x1="329.5" y1="338.76666666666665" x2="327.0" y2="338.76666666666665" stroke="#686868" stroke-width="1"/>
<line x1="68.5" y1="291.03333333333336" x2="71.0" y2="291.03333333333336" stroke="#686868" stroke-width="1"/>
<line x1="329.5" y1="291.03333333333336" x2="327.0" y2="291.03333333333336" stroke="#686868" stroke-width="1"/>
<line x1="68.5" y1="243.3" x2="71.0" y2="243.3" stroke="#686868" stroke-width="1"/>
<line x1="329.5" y1="243.3" x2="327.0" y2="243.3" stroke="#686868" stroke-width="1"/>
<path d="M412.5,386.5H429.5L431.6,291H627.8L629.7,386.5" fill="none" stroke="#000" stroke-width="2.2" stroke-dasharray="5.8 2.8" stroke-dashoffset="-1.6" clip-path="url(#c3)"/>
<line x1="629.7" y1="386.4" x2="674" y2="386.4" stroke="#000" stroke-width="1.6"/>
<g clip-path="url(#c3)" fill="none" stroke-width="2" stroke-linejoin="round" stroke-linecap="butt">
<path d="M412.50,386.50L430.30,386.50L431.30,379.29L432.31,372.25L433.31,365.82L434.32,360.36L435.32,356.08L436.33,352.79L437.33,350.18L438.34,348.02L439.34,346.20L440.35,344.68L441.35,343.40L442.35,342.31L443.36,341.41L444.36,340.66L445.37,340.06L446.37,339.57L447.38,339.19L448.38,338.88L449.39,338.64L450.39,338.43L451.40,338.25L452.40,338.06L453.41,337.88L454.41,337.69L455.41,337.50L456.42,337.30L457.42,337.10L458.43,336.90L459.43,336.69L460.44,336.47L461.44,336.25L462.45,336.02L463.45,335.79L464.46,335.55L465.46,335.31L466.46,335.07L467.47,334.82L468.47,334.57L469.48,334.32L470.48,334.07L471.49,333.81L472.49,333.55L473.50,333.30L474.50,333.04L475.51,332.78L476.51,332.53L477.51,332.27L478.52,332.02L479.52,331.77L480.53,331.52L481.53,331.28L482.54,331.04L483.54,330.80L484.55,330.57L485.55,330.34L486.56,330.12L487.56,329.90L488.56,329.69L489.57,329.49L490.57,329.29L491.58,329.11L492.58,328.92L493.59,328.75L494.59,328.58L495.60,328.42L496.60,328.26L497.61,328.12L498.61,327.97L499.62,327.84L500.62,327.70L501.62,327.58L502.63,327.46L503.63,327.34L504.64,327.23L505.64,327.12L506.65,327.02L507.65,326.92L508.66,326.82L509.66,326.73L510.67,326.64L511.67,326.55L512.67,326.47L513.68,326.39L514.68,326.31L515.69,326.23L516.69,326.16L517.70,326.08L518.70,326.01L519.71,325.94L520.71,325.88L521.72,325.81L522.72,325.75L523.72,325.68L524.73,325.62L525.73,325.56L526.74,325.51L527.74,325.45L528.75,325.40L529.75,325.34L530.76,325.29L531.76,325.24L532.77,325.20L533.77,325.15L534.78,325.11L535.78,325.06L536.78,325.02L537.79,324.98L538.79,324.94L539.80,324.90L540.80,324.86L541.81,324.83L542.81,324.79L543.82,324.76L544.82,324.73L545.83,324.70L546.83,324.67L547.83,324.64L548.84,324.61L549.84,324.59L550.85,324.56L551.85,324.54L552.86,324.51L553.86,324.49L554.87,324.47L555.87,324.45L556.88,324.43L557.88,324.41L558.88,324.40L559.89,324.38L560.89,324.36L561.90,324.35L562.90,324.33L563.91,324.32L564.91,324.31L565.92,324.29L566.92,324.28L567.93,324.27L568.93,324.26L569.94,324.25L570.94,324.24L571.94,324.23L572.95,324.22L573.95,324.21L574.96,324.21L575.96,324.20L576.97,324.19L577.97,324.19L578.98,324.18L579.98,324.18L580.99,324.17L581.99,324.17L582.99,324.16L584.00,324.16L585.00,324.15L586.01,324.15L587.01,324.14L588.02,324.14L589.02,324.14L590.03,324.13L591.03,324.13L592.04,324.13L593.04,324.12L594.04,324.12L595.05,324.11L596.05,324.11L597.06,324.11L598.06,324.10L599.07,324.10L600.07,324.10L601.08,324.09L602.08,324.09L603.09,324.08L604.09,324.08L605.09,324.07L606.10,324.07L607.10,324.06L608.11,324.05L609.11,324.05L610.12,324.04L611.12,324.03L612.13,324.02L613.13,324.02L614.14,324.01L615.14,324.00L616.15,323.99L617.15,323.98L618.15,323.96L619.16,323.95L620.16,323.94L621.17,323.93L622.17,323.91L623.18,323.90L624.18,323.88L625.19,323.87L626.19,323.85L627.20,323.83L628.20,323.81L629.22,331.13L630.24,338.63L631.25,345.50L632.27,351.09L633.29,355.51L634.31,359.01L635.32,361.79L636.34,363.96L637.36,365.60L638.38,366.83L639.40,367.74L640.41,368.42L641.43,368.98L642.45,369.48L643.47,369.92L644.48,370.32L645.50,370.68L646.52,371.00L647.54,371.28L648.56,371.53L649.57,371.76L650.59,371.96L651.61,372.15L652.63,372.32L653.64,372.49L654.66,372.65L655.68,372.81L656.70,372.98L657.72,373.15L658.73,373.32L659.75,373.50L660.77,373.68L661.79,373.87L662.80,374.07L663.82,374.27L664.84,374.48L665.86,374.69L666.88,374.92L667.89,375.15L668.91,375.38L669.93,375.63L670.95,375.89L671.96,376.15L672.98,376.42L674.00,376.70" stroke="#0000ff"/>
<path d="M412.50,386.50L430.30,386.50L431.30,378.71L432.31,370.09L433.31,361.53L434.31,355.28L435.31,351.00L436.32,346.94L437.32,342.78L438.32,339.24L439.32,336.52L440.33,334.44L441.33,332.88L442.33,331.84L443.33,331.31L444.34,331.29L445.34,331.73L446.34,332.49L447.34,333.40L448.35,334.38L449.35,335.37L450.35,336.33L451.35,337.21L452.36,337.96L453.36,338.55L454.36,339.01L455.36,339.41L456.37,339.77L457.37,340.13L458.37,340.46L459.37,340.76L460.38,341.02L461.38,341.22L462.38,341.36L463.38,341.42L464.39,341.40L465.39,341.28L466.39,341.09L467.39,340.84L468.40,340.55L469.40,340.22L470.40,339.88L471.40,339.54L472.41,339.20L473.41,338.86L474.41,338.52L475.41,338.19L476.42,337.85L477.42,337.53L478.42,337.21L479.42,336.90L480.43,336.59L481.43,336.30L482.43,336.01L483.43,335.74L484.44,335.48L485.44,335.23L486.44,335.00L487.44,334.78L488.45,334.58L489.45,334.39L490.45,334.23L491.45,334.08L492.46,333.95L493.46,333.84L494.46,333.75L495.46,333.66L496.47,333.59L497.47,333.53L498.47,333.48L499.48,333.43L500.48,333.39L501.48,333.36L502.48,333.33L503.49,333.29L504.49,333.26L505.49,333.23L506.49,333.20L507.50,333.16L508.50,333.13L509.50,333.10L510.50,333.07L511.51,333.04L512.51,333.01L513.51,332.98L514.51,332.94L515.52,332.91L516.52,332.88L517.52,332.85L518.52,332.82L519.53,332.79L520.53,332.76L521.53,332.73L522.53,332.70L523.54,332.67L524.54,332.64L525.54,332.61L526.54,332.58L527.55,332.55L528.55,332.52L529.55,332.49L530.55,332.46L531.56,332.44L532.56,332.41L533.56,332.38L534.56,332.35L535.57,332.32L536.57,332.30L537.57,332.27L538.57,332.24L539.58,332.22L540.58,332.19L541.58,332.16L542.58,332.14L543.59,332.11L544.59,332.09L545.59,332.06L546.59,332.04L547.60,332.01L548.60,331.99L549.60,331.96L550.60,331.94L551.61,331.91L552.61,331.89L553.61,331.87L554.61,331.85L555.62,331.82L556.62,331.80L557.62,331.78L558.62,331.76L559.63,331.74L560.63,331.72L561.63,331.70L562.64,331.68L563.64,331.66L564.64,331.64L565.64,331.62L566.65,331.60L567.65,331.58L568.65,331.56L569.65,331.54L570.66,331.53L571.66,331.51L572.66,331.49L573.66,331.48L574.67,331.46L575.67,331.44L576.67,331.43L577.67,331.41L578.68,331.40L579.68,331.39L580.68,331.37L581.68,331.36L582.69,331.35L583.69,331.34L584.69,331.32L585.69,331.31L586.70,331.30L587.70,331.29L588.70,331.28L589.70,331.27L590.71,331.26L591.71,331.25L592.71,331.25L593.71,331.24L594.72,331.23L595.72,331.22L596.72,331.22L597.72,331.21L598.73,331.21L599.73,331.20L600.73,331.20L601.73,331.19L602.74,331.19L603.74,331.19L604.74,331.18L605.74,331.18L606.75,331.18L607.75,331.18L608.75,331.18L609.75,331.18L610.76,331.18L611.76,331.18L612.76,331.18L613.76,331.19L614.77,331.19L615.77,331.19L616.77,331.20L617.77,331.20L618.78,331.21L619.78,331.21L620.78,331.22L621.78,331.23L622.79,331.24L623.79,331.24L624.79,331.25L625.79,331.26L626.80,331.27L627.80,331.28L628.80,337.01L629.81,344.21L630.81,352.01L631.82,359.52L632.82,366.20L633.83,371.79L634.83,376.13L635.83,379.35L636.84,381.63L637.84,383.14L638.85,384.07L639.85,384.61L640.86,384.87L641.86,384.88L642.87,384.67L643.87,384.29L644.87,383.76L645.88,383.11L646.88,382.38L647.89,381.59L648.89,380.78L649.90,379.98L650.90,379.23L651.90,378.54L652.91,377.96L653.91,377.50L654.92,377.13L655.92,376.85L656.93,376.65L657.93,376.51L658.93,376.42L659.94,376.36L660.94,376.35L661.95,376.37L662.95,376.42L663.96,376.51L664.96,376.63L665.97,376.79L666.97,376.98L667.97,377.20L668.98,377.46L669.98,377.74L670.99,378.06L671.99,378.41L673.00,378.79L674.00,379.20" stroke="#008000"/>
<path d="M412.50,386.50L430.30,386.50L431.30,381.79L432.31,376.72L433.31,372.02L434.32,368.20L435.32,365.21L436.33,362.70L437.33,360.49L438.34,358.55L439.34,356.85L440.35,355.35L441.35,354.02L442.35,352.81L443.36,351.71L444.36,350.70L445.37,349.77L446.37,348.91L447.38,348.12L448.38,347.39L449.39,346.70L450.39,346.06L451.40,345.45L452.40,344.86L453.41,344.29L454.41,343.73L455.41,343.17L456.42,342.61L457.42,342.08L458.43,341.59L459.43,341.15L460.44,340.79L461.44,340.50L462.45,340.25L463.45,340.03L464.46,339.81L465.46,339.58L466.46,339.31L467.47,339.02L468.47,338.71L469.48,338.37L470.48,338.03L471.49,337.66L472.49,337.29L473.50,336.92L474.50,336.54L475.51,336.16L476.51,335.79L477.51,335.43L478.52,335.07L479.52,334.73L480.53,334.40L481.53,334.09L482.54,333.78L483.54,333.48L484.55,333.20L485.55,332.93L486.56,332.66L487.56,332.41L488.56,332.17L489.57,331.93L490.57,331.71L491.58,331.49L492.58,331.29L493.59,331.09L494.59,330.90L495.60,330.72L496.60,330.54L497.61,330.38L498.61,330.22L499.62,330.07L500.62,329.92L501.62,329.78L502.63,329.65L503.63,329.52L504.64,329.40L505.64,329.29L506.65,329.17L507.65,329.07L508.66,328.97L509.66,328.87L510.67,328.77L511.67,328.68L512.67,328.59L513.68,328.51L514.68,328.43L515.69,328.35L516.69,328.27L517.70,328.19L518.70,328.12L519.71,328.05L520.71,327.98L521.72,327.91L522.72,327.85L523.72,327.78L524.73,327.72L525.73,327.66L526.74,327.60L527.74,327.55L528.75,327.49L529.75,327.44L530.76,327.39L531.76,327.34L532.77,327.29L533.77,327.24L534.78,327.20L535.78,327.16L536.78,327.12L537.79,327.08L538.79,327.04L539.80,327.00L540.80,326.96L541.81,326.93L542.81,326.90L543.82,326.86L544.82,326.83L545.83,326.81L546.83,326.78L547.83,326.75L548.84,326.73L549.84,326.70L550.85,326.68L551.85,326.66L552.86,326.64L553.86,326.62L554.87,326.60L555.87,326.58L556.88,326.56L557.88,326.55L558.88,326.53L559.89,326.52L560.89,326.50L561.90,326.49L562.90,326.48L563.91,326.47L564.91,326.46L565.92,326.45L566.92,326.44L567.93,326.43L568.93,326.43L569.94,326.42L570.94,326.41L571.94,326.41L572.95,326.40L573.95,326.40L574.96,326.39L575.96,326.39L576.97,326.39L577.97,326.38L578.98,326.38L579.98,326.38L580.99,326.38L581.99,326.37L582.99,326.37L584.00,326.37L585.00,326.37L586.01,326.37L587.01,326.37L588.02,326.37L589.02,326.37L590.03,326.37L591.03,326.37L592.04,326.37L593.04,326.37L594.04,326.37L595.05,326.36L596.05,326.36L597.06,326.36L598.06,326.36L599.07,326.36L600.07,326.36L601.08,326.36L602.08,326.35L603.09,326.35L604.09,326.35L605.09,326.35L606.10,326.34L607.10,326.34L608.11,326.33L609.11,326.33L610.12,326.32L611.12,326.32L612.13,326.31L613.13,326.30L614.14,326.30L615.14,326.29L616.15,326.28L617.15,326.27L618.15,326.26L619.16,326.25L620.16,326.24L621.17,326.22L622.17,326.21L623.18,326.19L624.18,326.18L625.19,326.16L626.19,326.15L627.20,326.13L628.20,326.11L629.22,330.83L630.24,335.93L631.25,340.67L632.27,344.60L633.29,347.80L634.31,350.51L635.32,352.87L636.34,354.93L637.36,356.70L638.38,358.23L639.40,359.53L640.41,360.65L641.43,361.60L642.45,362.43L643.47,363.17L644.48,363.83L645.50,364.46L646.52,365.05L647.54,365.60L648.56,366.12L649.57,366.61L650.59,367.08L651.61,367.53L652.63,367.96L653.64,368.38L654.66,368.79L655.68,369.18L656.70,369.58L657.72,369.97L658.73,370.36L659.75,370.76L660.77,371.16L661.79,371.58L662.80,372.00L663.82,372.42L664.84,372.84L665.86,373.26L666.88,373.66L667.89,374.06L668.91,374.43L669.93,374.78L670.95,375.11L671.96,375.41L672.98,375.67L674.00,375.90" stroke="#ff0000"/>
</g>
<rect x="412.5" y="243.3" width="261.5" height="143.2" fill="none" stroke="#686868" stroke-width="1"/>
<line x1="412.5" y1="386.5" x2="412.5" y2="384.0" stroke="#686868" stroke-width="1"/>
<line x1="412.5" y1="243.3" x2="412.5" y2="245.8" stroke="#686868" stroke-width="1"/>
<line x1="477.875" y1="386.5" x2="477.875" y2="384.0" stroke="#686868" stroke-width="1"/>
<line x1="477.875" y1="243.3" x2="477.875" y2="245.8" stroke="#686868" stroke-width="1"/>
<line x1="543.25" y1="386.5" x2="543.25" y2="384.0" stroke="#686868" stroke-width="1"/>
<line x1="543.25" y1="243.3" x2="543.25" y2="245.8" stroke="#686868" stroke-width="1"/>
<line x1="608.625" y1="386.5" x2="608.625" y2="384.0" stroke="#686868" stroke-width="1"/>
<line x1="608.625" y1="243.3" x2="608.625" y2="245.8" stroke="#686868" stroke-width="1"/>
<line x1="674.0" y1="386.5" x2="674.0" y2="384.0" stroke="#686868" stroke-width="1"/>
<line x1="674.0" y1="243.3" x2="674.0" y2="245.8" stroke="#686868" stroke-width="1"/>
<line x1="412.5" y1="386.5" x2="415.0" y2="386.5" stroke="#686868" stroke-width="1"/>
<line x1="674.0" y1="386.5" x2="671.5" y2="386.5" stroke="#686868" stroke-width="1"/>
<line x1="412.5" y1="338.76666666666665" x2="415.0" y2="338.76666666666665" stroke="#686868" stroke-width="1"/>
<line x1="674.0" y1="338.76666666666665" x2="671.5" y2="338.76666666666665" stroke="#686868" stroke-width="1"/>
<line x1="412.5" y1="291.03333333333336" x2="415.0" y2="291.03333333333336" stroke="#686868" stroke-width="1"/>
<line x1="674.0" y1="291.03333333333336" x2="671.5" y2="291.03333333333336" stroke="#686868" stroke-width="1"/>
<line x1="412.5" y1="243.3" x2="415.0" y2="243.3" stroke="#686868" stroke-width="1"/>
<line x1="674.0" y1="243.3" x2="671.5" y2="243.3" stroke="#686868" stroke-width="1"/>
<text x="65" y="182.9" font-size="18" text-anchor="end" >0</text>
<text x="65" y="147.15" font-size="18" text-anchor="end" >0.5</text>
<text x="65" y="111.4" font-size="18" text-anchor="end" >1</text>
<text x="65" y="75.65" font-size="18" text-anchor="end" >1.5</text>
<text x="65" y="39.9" font-size="18" text-anchor="end" >2</text>
<text x="68.5" y="195" font-size="18" text-anchor="middle" >0</text>
<text x="133.75" y="195" font-size="18" text-anchor="middle" >0.2</text>
<text x="199.0" y="195" font-size="18" text-anchor="middle" >0.4</text>
<text x="264.25" y="195" font-size="18" text-anchor="middle" >0.6</text>
<text x="329.5" y="195" font-size="18" text-anchor="middle" >0.8</text>
<text x="409.5" y="182.9" font-size="18" text-anchor="end" >0</text>
<text x="409.5" y="135.07" font-size="18" text-anchor="end" >0.4</text>
<text x="409.5" y="87.23" font-size="18" text-anchor="end" >0.8</text>
<text x="409.5" y="39.4" font-size="18" text-anchor="end" >1.2</text>
<text x="412.5" y="195" font-size="18" text-anchor="middle" >0</text>
<text x="477.88" y="195" font-size="18" text-anchor="middle" >0.2</text>
<text x="543.25" y="195" font-size="18" text-anchor="middle" >0.4</text>
<text x="608.62" y="195" font-size="18" text-anchor="middle" >0.6</text>
<text x="674.0" y="195" font-size="18" text-anchor="middle" >0.8</text>
<text x="65" y="392.9" font-size="18" text-anchor="end" >-1.5</text>
<text x="65" y="345.17" font-size="18" text-anchor="end" >-0.5</text>
<text x="65" y="297.43" font-size="18" text-anchor="end" >0.5</text>
<text x="65" y="249.7" font-size="18" text-anchor="end" >1.5</text>
<text x="68.5" y="405.5" font-size="18" text-anchor="middle" >0</text>
<text x="133.75" y="405.5" font-size="18" text-anchor="middle" >5</text>
<text x="199.0" y="405.5" font-size="18" text-anchor="middle" >10</text>
<text x="264.25" y="405.5" font-size="18" text-anchor="middle" >15</text>
<text x="329.5" y="405.5" font-size="18" text-anchor="middle" >20</text>
<text x="409.5" y="392.9" font-size="18" text-anchor="end" >0</text>
<text x="409.5" y="345.17" font-size="18" text-anchor="end" >0.5</text>
<text x="409.5" y="297.43" font-size="18" text-anchor="end" >1</text>
<text x="409.5" y="249.7" font-size="18" text-anchor="end" >1.5</text>
<text x="412.5" y="405.5" font-size="18" text-anchor="middle" >0</text>
<text x="477.88" y="405.5" font-size="18" text-anchor="middle" >10</text>
<text x="543.25" y="405.5" font-size="18" text-anchor="middle" >20</text>
<text x="608.62" y="405.5" font-size="18" text-anchor="middle" >30</text>
<text x="674.0" y="405.5" font-size="18" text-anchor="middle" >40</text>
<text x="198.2" y="210.8" font-size="12.6" text-anchor="middle" letter-spacing="0.3" stroke="#000" stroke-width="0.3">Hz</text>
<text x="543" y="210.8" font-size="12.6" text-anchor="middle" letter-spacing="0.3" stroke="#000" stroke-width="0.3">Hz</text>
<text x="198" y="422.5" font-size="12.4" text-anchor="middle" letter-spacing="0.2" stroke="#000" stroke-width="0.3">Seconds</text>
<text x="543" y="423.4" font-size="12.4" text-anchor="middle" letter-spacing="0.2" stroke="#000" stroke-width="0.3">Seconds</text>
<text x="198.3" y="23.7" font-size="18" text-anchor="middle" letter-spacing="0.25">FR of MABP Input</text>
<text x="460.6" y="21.1" font-size="18" text-anchor="start" letter-spacing="0.08">FR of ETCO</text>
<text x="560.6" y="29.6" font-size="14" text-anchor="start" >2</text>
<text x="569.5" y="21.1" font-size="18" text-anchor="start" xml:space="preserve" letter-spacing="0.25"> Input</text>
<text x="198.1" y="236.4" font-size="18" text-anchor="middle" letter-spacing="0.25">SRF of MABP Input</text>
<text x="454.2" y="230.2" font-size="18" text-anchor="start" letter-spacing="0.08">SRF of ETCO</text>
<text x="567.2" y="239.5" font-size="14" text-anchor="start" >2</text>
<text x="575.3" y="230.2" font-size="18" text-anchor="start" xml:space="preserve" letter-spacing="0.25"> Input</text>
<g transform="translate(23.3,135.8) rotate(-90)"><rect x="1.3" y="-12.8" width="1.4" height="12.8" fill="#000"/><text x="4.7" y="0" font-size="18">H</text><text x="18.2" y="7.3" font-size="13" letter-spacing="1.2">t,P(f)</text><rect x="53.3" y="-12.8" width="1.4" height="12.8" fill="#000"/></g>
<g transform="translate(366.8,136.4) rotate(-90)"><rect x="1.3" y="-12.8" width="1.4" height="12.8" fill="#000"/><text x="4.7" y="0" font-size="18">H</text><text x="18.2" y="7.3" font-size="13" letter-spacing="1.2">t,<tspan font-family="Liberation Serif">Γ</tspan>(f)</text><rect x="53.3" y="-12.8" width="1.4" height="12.8" fill="#000"/></g>
<rect x="640.5" y="21.5" width="100" height="98" fill="#fff" stroke="#686868" stroke-width="1"/>
<line x1="644" y1="38.5" x2="663" y2="38.5" stroke="#0000ff" stroke-width="2"/>
<text x="663.8" y="37.099999999999994" font-size="20" text-anchor="start" >r</text>
<text x="670.6" y="45.599999999999994" font-size="14" text-anchor="start" >sa</text>
<text x="691.3" y="37.199999999999996" font-size="18" text-anchor="start" xml:space="preserve">= 3.0</text>
<line x1="644" y1="70.5" x2="663" y2="70.5" stroke="#008000" stroke-width="2"/>
<text x="663.8" y="69.1" font-size="20" text-anchor="start" >r</text>
<text x="670.6" y="77.6" font-size="14" text-anchor="start" >sa</text>
<text x="691.3" y="69.2" font-size="18" text-anchor="start" xml:space="preserve">= 6.0</text>
<line x1="644" y1="102.5" x2="663" y2="102.5" stroke="#ff0000" stroke-width="2"/>
<text x="663.8" y="101.1" font-size="20" text-anchor="start" >r</text>
<text x="670.6" y="109.6" font-size="14" text-anchor="start" >sa</text>
<text x="691.3" y="101.2" font-size="18" text-anchor="start" xml:space="preserve">= 1.5</text>
<rect x="260.5" y="246.5" width="67" height="33" fill="#fff" stroke="#686868" stroke-width="1"/>
<line x1="263.5" y1="263.3" x2="282" y2="263.3" stroke="#000" stroke-width="2"/>
<text x="283.6" y="261.6" font-size="18" text-anchor="start" >p</text>
<text x="294.5" y="271.6" font-size="12" text-anchor="start" >A</text>
<text x="304.8" y="261.6" font-size="18" text-anchor="start" >(t)</text>
<rect x="616.5" y="246.5" width="55" height="26" fill="#fff" stroke="#686868" stroke-width="1"/>
<line x1="622" y1="259.2" x2="636.5" y2="259.2" stroke="#000" stroke-width="2" stroke-dasharray="5.7 3.4"/>
<path d="M640.2,258.9C640.9,257.7 642.2,258.0 642.9,259.8L644.2,264.4M647.6,257.9C647.2,259.8 645.6,262.4 644.2,264.4C643.6,266.0 643.5,268.0 643.9,269.7" fill="none" stroke="#000" stroke-width="1.35" stroke-linecap="round"/>
<ellipse cx="643.9" cy="268.3" rx="0.75" ry="1.5" fill="#000"/>
<circle cx="640.8" cy="258.4" r="0.9" fill="#000"/>
<text x="648.8" y="265.5" font-size="18" text-anchor="start" >(t)</text>
</svg>
</body></html>
